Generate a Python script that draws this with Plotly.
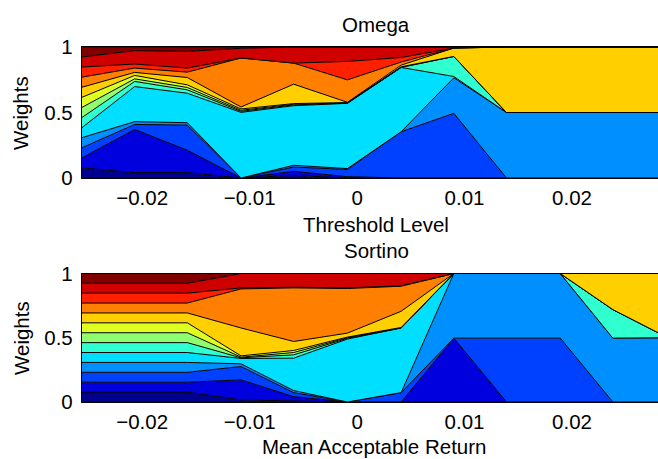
import plotly.graph_objects as go

# x positions (threshold / mean acceptable return levels)
x_levels = [-0.0256, -0.0207, -0.0158, -0.0108, -0.0059, -0.0009,
            0.0041, 0.0090, 0.0139, 0.0189, 0.0238, 0.0287]

# ---- Omega weights (13 assets, bottom to top) ----
om_s1 = [0.077, 0.041, 0.041, 0.000, 0.020, 0.000, 0.000, 0.000, 0.0, 0.0, 0.0, 0.0]
om_s2 = [0.077, 0.330, 0.171, 0.000, 0.031, 0.010, 0.000, 0.000, 0.0, 0.0, 0.0, 0.0]
om_s3 = [0.077, 0.038, 0.192, 0.000, 0.033, 0.055, 0.353, 0.494, 0.0, 0.0, 0.0, 0.0]
om_s4 = [0.077, 0.021, 0.018, 0.000, 0.013, 0.007, 0.000, 0.271, 0.5, 0.5, 0.5, 0.5]
om_s5 = [0.077, 0.268, 0.225, 0.501, 0.455, 0.498, 0.491, 0.010, 0.0, 0.0, 0.0, 0.0]
om_s6 = [0.077, 0.039, 0.026, 0.008, 0.006, 0.002, 0.000, 0.153, 0.0, 0.0, 0.0, 0.0]
om_s7 = [0.077, 0.020, 0.018, 0.008, 0.005, 0.002, 0.002, 0.000, 0.0, 0.0, 0.0, 0.0]
om_s8 = [0.077, 0.026, 0.020, 0.010, 0.005, 0.002, 0.003, 0.000, 0.0, 0.0, 0.0, 0.0]
om_s9 = [0.077, 0.023, 0.056, 0.015, 0.148, 0.002, 0.013, 0.064, 0.5, 0.5, 0.5, 0.5]
om_s10 = [0.077, 0.033, 0.041, 0.374, 0.161, 0.171, 0.023, 0.000, 0.0, 0.0, 0.0, 0.0]
om_s11 = [0.077, 0.031, 0.031, 0.000, 0.000, 0.141, 0.035, 0.000, 0.0, 0.0, 0.0, 0.0]
om_s12 = [0.077, 0.102, 0.128, 0.074, 0.123, 0.110, 0.080, 0.008, 0.0, 0.0, 0.0, 0.0]
om_s13 = [0.077, 0.028, 0.033, 0.010, 0.000, 0.000, 0.000, 0.000, 0.0, 0.0, 0.0, 0.0]

# ---- Sortino weights ----
so_s1 = [0.077, 0.077, 0.077, 0.016, 0.010, 0.000, 0.000, 0.000, 0.000, 0.000, 0.000, 0.00]
so_s2 = [0.077, 0.077, 0.077, 0.156, 0.032, 0.000, 0.000, 0.497, 0.000, 0.000, 0.000, 0.00]
so_s3 = [0.077, 0.077, 0.077, 0.104, 0.031, 0.000, 0.073, 0.000, 0.497, 0.497, 0.000, 0.00]
so_s4 = [0.077, 0.077, 0.077, 0.021, 0.016, 0.000, 0.000, 0.503, 0.503, 0.503, 0.497, 0.50]
so_s5 = [0.077, 0.077, 0.077, 0.042, 0.252, 0.490, 0.503, 0.000, 0.000, 0.000, 0.000, 0.00]
so_s6 = [0.077, 0.077, 0.077, 0.005, 0.026, 0.005, 0.000, 0.000, 0.000, 0.000, 0.222, 0.01]
so_s7 = [0.077, 0.077, 0.077, 0.005, 0.018, 0.005, 0.002, 0.000, 0.000, 0.000, 0.000, 0.00]
so_s8 = [0.077, 0.077, 0.077, 0.010, 0.016, 0.005, 0.002, 0.000, 0.000, 0.000, 0.000, 0.00]
so_s9 = [0.077, 0.077, 0.077, 0.217, 0.070, 0.031, 0.126, 0.000, 0.000, 0.000, 0.281, 0.49]
so_s10 = [0.077, 0.077, 0.077, 0.304, 0.417, 0.347, 0.195, 0.000, 0.000, 0.000, 0.000, 0.00]
so_s11 = [0.077, 0.077, 0.077, 0.008, 0.005, 0.005, 0.004, 0.000, 0.000, 0.000, 0.000, 0.00]
so_s12 = [0.077, 0.077, 0.077, 0.112, 0.107, 0.112, 0.095, 0.000, 0.000, 0.000, 0.000, 0.00]
so_s13 = [0.077, 0.077, 0.077, 0.000, 0.000, 0.000, 0.000, 0.000, 0.000, 0.000, 0.000, 0.00]

omega_series = [om_s1, om_s2, om_s3, om_s4, om_s5, om_s6, om_s7,
                om_s8, om_s9, om_s10, om_s11, om_s12, om_s13]
sortino_series = [so_s1, so_s2, so_s3, so_s4, so_s5, so_s6, so_s7,
                  so_s8, so_s9, so_s10, so_s11, so_s12, so_s13]

# jet colormap, 13 entries
jet_colors = ["#00008F", "#0000DF", "#0040FF", "#008FFF", "#00DFFF", "#30FFCF",
              "#8FFF70", "#DFFF20", "#FFCF00", "#FF8000", "#FF2000", "#CF0000", "#800000"]

x_ticks = [-0.02, -0.01, 0, 0.01, 0.02]
x_ticktext = ["\u22120.02", "\u22120.01", "0", "0.01", "0.02"]
y_ticks = [0, 0.5, 1]
y_ticktext = ["0", "0.5", "1"]

FONT = "Liberation Sans, Arial, Helvetica, sans-serif"
FS = 20.5
W, H = 658, 459
L = 82

fig = go.Figure()
for i, vals in enumerate(omega_series):
    fig.add_trace(go.Scatter(x=x_levels, y=vals, mode="lines", stackgroup="om",
                             line=dict(color="black", width=1),
                             fillcolor=jet_colors[i], xaxis="x", yaxis="y",
                             showlegend=False, hoverinfo="skip"))
for i, vals in enumerate(sortino_series):
    fig.add_trace(go.Scatter(x=x_levels, y=vals, mode="lines", stackgroup="so",
                             line=dict(color="black", width=1),
                             fillcolor=jet_colors[i], xaxis="x2", yaxis="y2",
                             showlegend=False, hoverinfo="skip"))

def py(p):
    return 1 - p / H

def px(p):
    return (p - L) / (W - L)

axis_common = dict(showgrid=False, zeroline=False, ticks="", showline=True,
                   linecolor="black", linewidth=1.3, automargin=False,
                   tickfont=dict(family=FONT, size=FS, color="black"))

fig.update_layout(
    width=W, height=H,
    margin=dict(l=L, r=0, t=0, b=0),
    paper_bgcolor="white", plot_bgcolor="white",
    xaxis=dict(domain=[0, 1], range=[-0.0256, 0.0280], anchor="y",
               tickvals=x_ticks, ticktext=x_ticktext, mirror=True,
               ticklabelstandoff=1, **axis_common),
    yaxis=dict(domain=[py(178), py(47)], range=[0, 1], anchor="x",
               tickvals=y_ticks, ticktext=y_ticktext,
               ticklabelstandoff=4, **axis_common),
    xaxis2=dict(domain=[0, 1], range=[-0.0256, 0.0280], anchor="y2",
                tickvals=x_ticks, ticktext=x_ticktext, mirror=True,
                ticklabelstandoff=1, **axis_common),
    yaxis2=dict(domain=[py(402), py(273.5)], range=[0, 1], anchor="x2",
                tickvals=y_ticks, ticktext=y_ticktext,
                ticklabelstandoff=4, **axis_common),
)

def label(text, xp, yp, angle=0):
    fig.add_annotation(text=text, xref="paper", yref="paper", x=px(xp), y=py(yp),
                       xanchor="center", yanchor="middle", showarrow=False,
                       textangle=angle, font=dict(family=FONT, size=FS, color="black"))

label("Omega", 376, 25)
label("Threshold Level", 376, 224)
label("Sortino", 376, 250)
label("Mean Acceptable Return", 374, 446)
label("Weights", 21, 113, -90)
label("Weights", 21, 338, -90)

fig.write_html("out.html")
